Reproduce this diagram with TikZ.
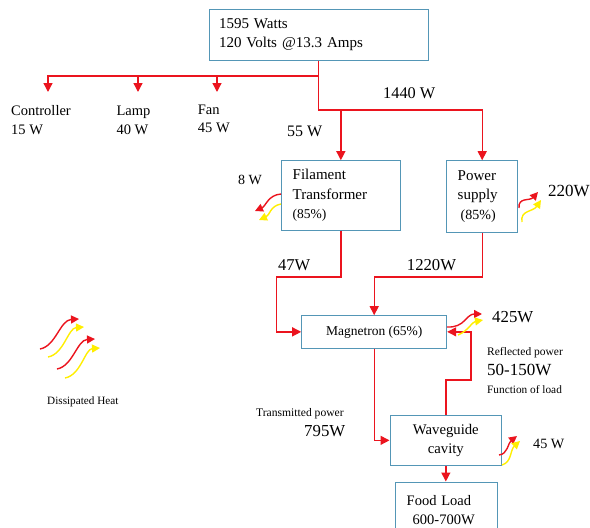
\documentclass[tikz,border=0pt]{standalone}
\usepackage{fontspec}
\setmainfont{Liberation Serif}
\usetikzlibrary{arrows.meta}
\definecolor{boxblue}{RGB}{84,150,182}
\definecolor{flowred}{RGB}{235,20,30}
\definecolor{heatyel}{RGB}{255,238,0}
\tikzset{
  blk/.style={draw=boxblue, line width=1pt, inner sep=0pt},
  flow/.style={draw=flowred, line width=1.3pt},
  arr/.style={flow, -{Triangle[width=9pt,length=9pt]}},
  lbl/.style={anchor=base west, inner sep=0pt},
  hred/.style={draw=flowred, line width=1.4pt, -{Triangle[width=8pt,length=8pt]}},
  hyel/.style={draw=heatyel, line width=1.4pt, -{Triangle[width=8pt,length=8pt]}},
}
\begin{document}
\begin{tikzpicture}[x=1pt,y=-1pt]
\useasboundingbox (0,0) rectangle (590,528);
\clip (0,0) rectangle (590,528);
% boxes
\node[blk, minimum height=51pt, text width=199pt, inner xsep=10pt, align=left,
  font=\fontsize{15}{18.3}\selectfont] (top) at (318.5,34.5) {1595 Watts\\120 Volts @13.3 Amps};
\node[blk, minimum height=69.3pt, text width=96.3pt, inner xsep=11pt, align=left,
  font=\fontsize{15}{19.5}\selectfont] (fil) at (340.85,195.35)
  {Filament\\Transformer\\{\fontsize{13.5}{19.5}\selectfont (85\%)}};
\node[blk, minimum height=71.3pt, text width=49pt, inner xsep=11pt, align=left,
  font=\fontsize{15}{19.5}\selectfont] (ps) at (482.2,196.35)
  {Power\\supply\\{\fontsize{14}{19.5}\selectfont\hspace*{3pt}(85\%)}};
\node[blk, minimum width=145pt, minimum height=32.3pt,
  font=\fontsize{13.5}{16}\selectfont] (mag) at (374.2,331.85) {Magnetron (65\%)};
\node[blk, minimum width=111.7pt, minimum height=50.7pt, align=center,
  font=\fontsize{14.7}{18.3}\selectfont] (wave) at (445.85,440.35) {Waveguide\\cavity};
\node[blk, minimum height=56pt, text width=79.3pt, inner xsep=11pt, align=left,
  font=\fontsize{14.5}{19}\selectfont] (food) at (446.35,510) {Food Load\\\hspace*{6pt}600-700W};
% labels
\node[lbl, font=\fontsize{14.5}{17}\selectfont] (ctl1) at (11,115) {Controller};
\node[lbl, font=\fontsize{14.5}{17}\selectfont] (ctl2) at (11,134) {15 W};
\node[lbl, font=\fontsize{14.5}{17}\selectfont] (lamp1) at (116.3,115) {Lamp};
\node[lbl, font=\fontsize{14.5}{17}\selectfont] (lamp2) at (116.3,134) {40 W};
\node[lbl, font=\fontsize{14.5}{17}\selectfont] (fan1) at (197.7,114) {Fan};
\node[lbl, font=\fontsize{14.5}{17}\selectfont] (fan2) at (197.7,132.7) {45 W};
\node[lbl, font=\fontsize{16.3}{19}\selectfont] (w1440) at (383,98.3) {1440 W};
\node[lbl, font=\fontsize{16}{19}\selectfont] (w55) at (287,136.7) {55 W};
\node[lbl, font=\fontsize{14}{17}\selectfont] (w8) at (238,184.3) {8 W};
\node[lbl, font=\fontsize{17}{20}\selectfont] (w220) at (548,196.7) {220W};
\node[lbl, font=\fontsize{16.5}{19}\selectfont] (w47) at (278,270) {47W};
\node[lbl, font=\fontsize{16.7}{19}\selectfont] (w1220) at (406.7,270) {1220W};
\node[lbl, font=\fontsize{16.8}{19}\selectfont] (w425) at (492,322.3) {425W};
\node[lbl, font=\fontsize{11.5}{14}\selectfont] (refl) at (487,355) {Reflected power};
\node[lbl, font=\fontsize{17}{20}\selectfont] (w50) at (487,375.7) {50-150W};
\node[lbl, font=\fontsize{11.3}{14}\selectfont] (func) at (487,393.3) {Function of load};
\node[lbl, font=\fontsize{11.6}{14}\selectfont] (trans) at (256,416.7) {Transmitted power};
\node[lbl, font=\fontsize{16.8}{19}\selectfont] (w795) at (304,436.7) {795W};
\node[lbl, font=\fontsize{14.2}{17}\selectfont] (w45) at (533,448.3) {45 W};
\node[lbl, font=\fontsize{11.2}{14}\selectfont] (diss) at (47,404) {Dissipated Heat};
% connector coordinates
\coordinate (j1) at (318.5,76);
\coordinate (j2) at (318.5,110);
\coordinate (actl) at (48,92);
\coordinate (alamp) at (138,92);
\coordinate (afan) at (217,92);
\coordinate (c1) at (276.7,277);
\coordinate (c2) at (374.2,277);
\coordinate (c3) at (471,380);
% connectors
\draw[arr] (j1) -| (actl);
\draw[arr] (alamp |- j1) -- (alamp);
\draw[arr] (afan |- j1) -- (afan);
\draw[arr] (top.south) -- (j2) -| (ps.north);
\draw[arr] (fil.north |- j2) -- (fil.north);
\draw[arr] (fil.south) |- (c1) |- (mag.west);
\draw[arr] (ps.south) |- (c2) -- (mag.north);
\draw[arr] (mag.south) |- (wave.west);
\draw[arr] (wave.north) |- (c3) |- (mag.east);
\draw[arr] (wave.south) -- (wave.south |- food.north);
% heat arrows
\draw[hred] (281,194) .. controls (268,195) and (266,206) .. (255,211);
\draw[hyel] (281,204) .. controls (270,206) and (270,215) .. (259,220);
\draw[hred] (519,208) .. controls (518,197) and (530,201) .. (538,192);
\draw[hyel] (522,222) .. controls (520,210) and (533,212) .. (541,200);
\draw[hred] (447,327) .. controls (465,328) and (466,314) .. (482,314);
\draw[hyel] (458,335) .. controls (468,331) and (472,322) .. (483,320);
\draw[hred] (499,455) .. controls (508,454) and (508,443) .. (517,436);
\draw[hyel] (502,465) .. controls (512,462) and (510,450) .. (520,441);
% legend
\draw[hred] (40,349) .. controls (56,346) and (60,320) .. (79,319);
\draw[hyel] (48,357) .. controls (64,354) and (68,328) .. (84,327);
\draw[hred] (57,369) .. controls (73,366) and (77,340) .. (95,339);
\draw[hyel] (65,378) .. controls (81,375) and (85,349) .. (100,348);
\end{tikzpicture}
\end{document}
